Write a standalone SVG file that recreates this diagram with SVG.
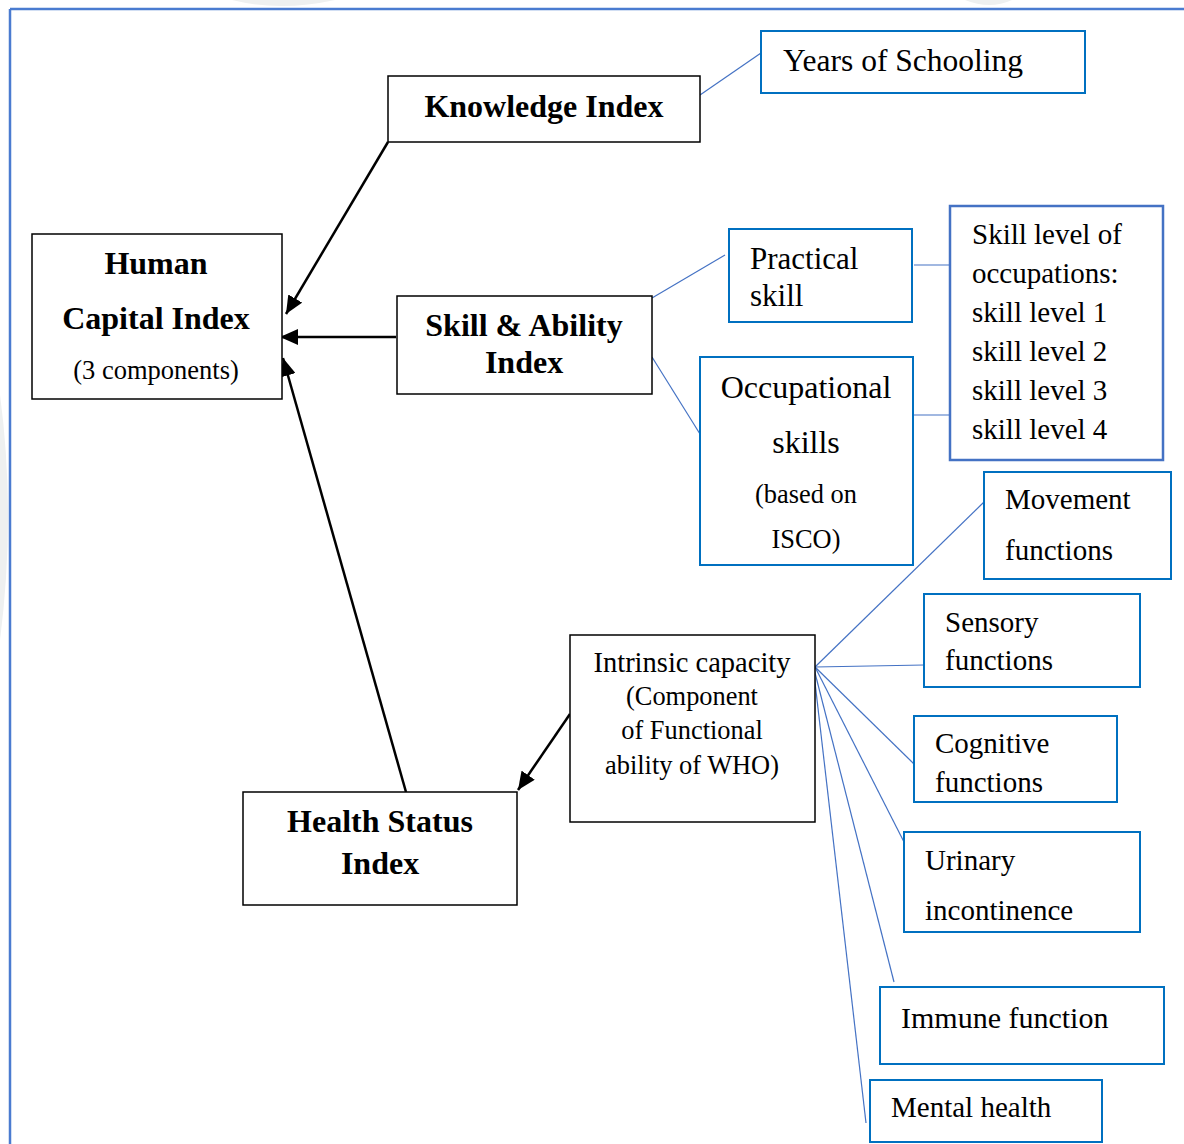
<svg xmlns="http://www.w3.org/2000/svg" width="1184" height="1144" viewBox="0 0 1184 1144">
<style>
text{font-family:"Liberation Serif","Times New Roman",serif;fill:#000}
.b{font-weight:bold;font-size:32px;text-anchor:middle}
.bk{fill:#fff;stroke:#000;stroke-width:1.5}
.bl{fill:#fff;stroke:#0070c0;stroke-width:2}
.bl2{fill:#fff;stroke:#4472c4;stroke-width:2.5}
.ar{stroke:#000;stroke-width:2.5;fill:none}
.ln{stroke:#4472c4;stroke-width:1.2;fill:none}
.r30{font-size:30px}
.r29{font-size:29px}
</style>
<defs>
<marker id="ah" markerUnits="userSpaceOnUse" markerWidth="20" markerHeight="16" refX="18" refY="8" orient="auto">
<path d="M0,0 L18,8 L0,16 Z" fill="#000"/>
</marker>
</defs>
<rect x="0" y="0" width="1184" height="1144" fill="#fff"/>
<g id="watermark" fill="#eef0f0">
<path d="M0,395 Q16,515 0,640 Z"/>
<path d="M232,0 Q280,12 335,0 Z"/>
<path d="M965,0 Q990,10 1012,0 Z"/>
</g>
<g id="frame" stroke="#4a7bd0" stroke-width="2.5">
<line x1="10" y1="9" x2="1184" y2="9"/>
<line x1="10" y1="9" x2="10" y2="1144"/>
</g>
<g id="connectors">
<line class="ar" x1="388" y1="142" x2="286" y2="314" marker-end="url(#ah)"/>
<line class="ar" x1="396" y1="337" x2="280" y2="337" marker-end="url(#ah)"/>
<line class="ar" x1="406" y1="792" x2="283" y2="358" marker-end="url(#ah)"/>
<line class="ar" x1="570" y1="714" x2="518" y2="790" marker-end="url(#ah)"/>
<line class="ln" x1="700" y1="95" x2="761" y2="53"/>
<line class="ln" x1="652" y1="298" x2="725" y2="255"/>
<line class="ln" x1="652" y1="357" x2="700" y2="434"/>
<line class="ln" x1="914" y1="265" x2="950" y2="265"/>
<line class="ln" x1="914" y1="415" x2="950" y2="415"/>
<line class="ln" x1="815" y1="667" x2="984" y2="502"/>
<line class="ln" x1="815" y1="667" x2="924" y2="665"/>
<line class="ln" x1="815" y1="667" x2="914" y2="764"/>
<line class="ln" x1="814" y1="665" x2="904" y2="842"/>
<line class="ln" x1="813" y1="665" x2="894" y2="982"/>
<line class="ln" x1="813" y1="665" x2="866" y2="1123"/>
</g>
<g id="knowledge">
<rect class="bk" x="388" y="76" width="312" height="66"/>
<text class="b" x="544" y="117">Knowledge Index</text>
</g>
<g id="human">
<rect class="bk" x="32" y="234" width="250" height="165"/>
<text class="b" x="156" y="274">Human</text>
<text class="b" x="156" y="329">Capital Index</text>
<text x="156" y="379" font-size="26.5" text-anchor="middle">(3 components)</text>
</g>
<g id="skill">
<rect class="bk" x="397" y="296" width="255" height="98"/>
<text class="b" x="524" y="336">Skill &amp; Ability</text>
<text class="b" x="524" y="373">Index</text>
</g>
<g id="health">
<rect class="bk" x="243" y="792" width="274" height="113"/>
<text class="b" x="380" y="832">Health Status</text>
<text class="b" x="380" y="874">Index</text>
</g>
<g id="intrinsic">
<rect class="bk" x="570" y="635" width="245" height="187"/>
<text x="692" y="672" font-size="28.5" text-anchor="middle">Intrinsic capacity</text>
<text x="692" y="705" font-size="26.4" text-anchor="middle">(Component</text>
<text x="692" y="739" font-size="26.4" text-anchor="middle">of Functional</text>
<text x="692" y="774" font-size="26.4" text-anchor="middle">ability of WHO)</text>
</g>
<g id="years">
<rect class="bl" x="761" y="31" width="324" height="62"/>
<text x="783" y="71" font-size="31.5">Years of Schooling</text>
</g>
<g id="practical">
<rect class="bl" x="729" y="229" width="183" height="93"/>
<text x="750" y="269" font-size="31">Practical</text>
<text x="750" y="306" font-size="31">skill</text>
</g>
<g id="skilllevel">
<rect class="bl2" x="950" y="206" width="213" height="254"/>
<text x="972" y="244" class="r29">Skill level of</text>
<text x="972" y="283" class="r29">occupations:</text>
<text x="972" y="322" class="r29">skill level 1</text>
<text x="972" y="361" class="r29">skill level 2</text>
<text x="972" y="400" class="r29">skill level 3</text>
<text x="972" y="439" class="r29">skill level 4</text>
</g>
<g id="occupational">
<rect class="bl" x="700" y="357" width="213" height="208"/>
<text x="806" y="398" font-size="32" text-anchor="middle">Occupational</text>
<text x="806" y="453" font-size="32" text-anchor="middle">skills</text>
<text x="806" y="503" font-size="26.4" text-anchor="middle">(based on</text>
<text x="806" y="548" font-size="26.4" text-anchor="middle">ISCO)</text>
</g>
<g id="movement">
<rect class="bl" x="984" y="472" width="187" height="107"/>
<text x="1005" y="509" class="r29">Movement</text>
<text x="1005" y="560" class="r29">functions</text>
</g>
<g id="sensory">
<rect class="bl" x="924" y="594" width="216" height="93"/>
<text x="945" y="632" class="r29">Sensory</text>
<text x="945" y="670" class="r29">functions</text>
</g>
<g id="cognitive">
<rect class="bl" x="914" y="716" width="203" height="86"/>
<text x="935" y="753" class="r29">Cognitive</text>
<text x="935" y="792" class="r29">functions</text>
</g>
<g id="urinary">
<rect class="bl" x="904" y="832" width="236" height="100"/>
<text x="925" y="870" class="r29">Urinary</text>
<text x="925" y="920" class="r29">incontinence</text>
</g>
<g id="immune">
<rect class="bl" x="880" y="987" width="284" height="77"/>
<text x="901" y="1028" class="r30">Immune function</text>
</g>
<g id="mental">
<rect class="bl" x="870" y="1080" width="232" height="62"/>
<text x="891" y="1117" class="r29">Mental health</text>
</g>
</svg>
